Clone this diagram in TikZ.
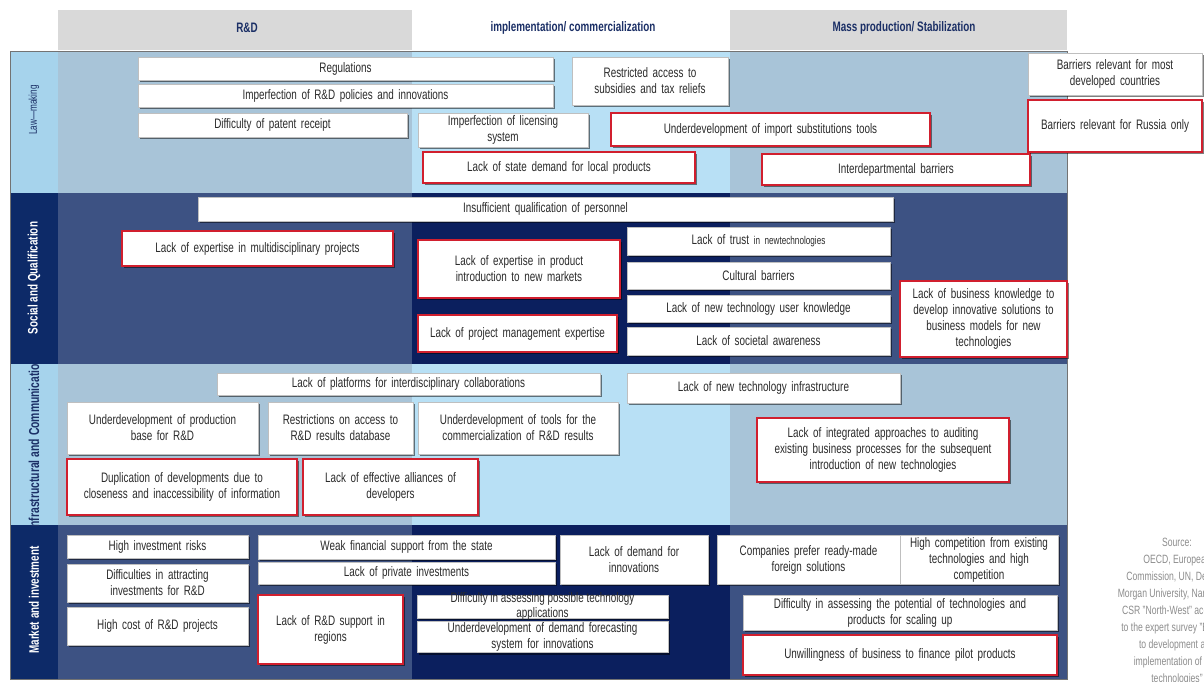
\documentclass[tikz,border=0pt]{standalone}
\usepackage{fontspec}
\setmainfont{Liberation Sans}[FakeStretch=0.72]
\usetikzlibrary{shadows}
\definecolor{hdr}{HTML}{D9D9D9}
\definecolor{lstrip}{HTML}{A6D3EC}
\definecolor{lside}{HTML}{A8C4D8}
\definecolor{lmid}{HTML}{B8E0F5}
\definecolor{dstrip}{HTML}{0D2A68}
\definecolor{dside}{HTML}{3D5283}
\definecolor{dmid}{HTML}{0B1F5E}
\definecolor{rbord}{HTML}{D11F2E}
\definecolor{ttxt}{HTML}{2B2B2B}
\definecolor{navy}{HTML}{1B2F66}
\tikzset{
  boxbase/.style={rectangle, inner sep=1pt, align=center, text=ttxt,
    font=\fontsize{10.3}{12}\selectfont,
    drop shadow={shadow xshift=1.2pt, shadow yshift=-1.8pt, fill=black, opacity=0.5}},
  wbox/.style={boxbase, fill=white, draw=black!25, line width=0.4pt},
  rbox/.style={boxbase, fill=white, draw=rbord, line width=1.5pt},
  hdrtext/.style={font=\bfseries\fontsize{10.3}{12}\selectfont, text=navy},
  lbl/.style={rotate=90, font=\bfseries\fontsize{10.3}{12}\selectfont},
}
\newcommand\mybox[7]{%
  \pgfmathsetmacro\bcx{(#3+#5)/2}%
  \pgfmathsetmacro\bcy{(#4+#6)/2}%
  \pgfmathsetmacro\bw{(#5-#3)*0.75}%
  \pgfmathsetmacro\bh{(#6-#4)*0.75}%
  \pgfmathsetmacro\btw{(#5-#3)*0.75-2}%
  \node[#2, minimum width=\bw pt, minimum height=\bh pt, text width=\btw pt] (#1) at (\bcx,\bcy) {#7};}
\begin{document}
\begin{tikzpicture}[x=0.75pt, y=-0.75pt]
\useasboundingbox (0,0) rectangle (1204,682);
% headers
\fill[hdr] (58,10) rectangle (412,50);
\fill[hdr] (730,10) rectangle (1067,50);
\node[hdrtext] (h1) at (247,28) {R\&D};
\node[hdrtext] (h2) at (573,28) {implementation/ commercialization};
\node[hdrtext] (h3) at (904,28) {Mass production/ Stabilization};
% rows
\fill[lstrip] (10,51) rectangle (58,193);
\fill[lside] (58,51) rectangle (412,193);
\fill[lmid] (412,51) rectangle (730,193);
\fill[lside] (730,51) rectangle (1067,193);
\fill[dstrip] (10,193) rectangle (58,364);
\fill[dside] (58,193) rectangle (412,364);
\fill[dmid] (412,193) rectangle (730,364);
\fill[dside] (730,193) rectangle (1067,364);
\fill[lstrip] (10,364) rectangle (58,525);
\fill[lside] (58,364) rectangle (412,525);
\fill[lmid] (412,364) rectangle (730,525);
\fill[lside] (730,364) rectangle (1067,525);
\fill[dstrip] (10,525) rectangle (58,679);
\fill[dside] (58,525) rectangle (412,679);
\fill[dmid] (412,525) rectangle (730,679);
\fill[dside] (730,525) rectangle (1067,679);
\draw[black!55, line width=0.6pt] (10,51) rectangle (1067,679);
% row labels
\node[lbl, text=navy, font=\fontsize{8.5}{10}\selectfont] (l1) at (34,110) {Law—making};
\node[lbl, text=white] (l2) at (34,278) {Social and Qualification};
\begin{scope}
\clip (10,364) rectangle (58,525);
\node[lbl, text=navy, font=\bfseries\fontsize{10.8}{12}\selectfont] (l3) at (34,444) {Infrastructural and Communication};
\end{scope}
\node[lbl, text=white] (l4) at (34,600) {Market and investment};
% law-making
\mybox{reg}{wbox}{138}{57}{553}{80}{Regulations}
\mybox{imp}{wbox}{138}{84}{553}{107}{Imperfection of R\&D policies and innovations}
\mybox{pat}{wbox}{138}{113}{407}{137}{Difficulty of patent receipt}
\mybox{sub}{wbox}{572}{57}{728}{105}{Restricted access to\\subsidies and tax reliefs}
\mybox{lic}{wbox}{418}{113}{588}{147}{Imperfection of licensing\\system}
\mybox{ist}{rbox}{611}{113}{930}{146}{Underdevelopment of import substitutions tools}
\mybox{sdm}{rbox}{423}{152}{695}{183}{Lack of state demand for local products}
\mybox{idb}{rbox}{762}{154}{1030}{185}{Interdepartmental barriers}
% legend
\mybox{lg1}{wbox}{1028}{53}{1202}{95}{Barriers relevant for most\\developed countries}
\mybox{lg2}{rbox}{1028}{100}{1202}{152}{Barriers relevant for Russia only}
% social
\mybox{iqp}{wbox}{198}{197}{893}{221}{Insufficient qualification of personnel}
\mybox{emp}{rbox}{122}{231}{393}{266}{Lack of expertise in multidisciplinary projects}
\mybox{epi}{rbox}{418}{240}{620}{298}{Lack of expertise in product\\introduction to new markets}
\mybox{pme}{rbox}{418}{315}{617}{352}{Lack of project management expertise}
\mybox{tru}{wbox}{627}{227}{890}{255}{Lack of trust {\fontsize{8.5}{10}\selectfont in newtechnologies}}
\mybox{cul}{wbox}{627}{262}{890}{289}{Cultural barriers}
\mybox{utk}{wbox}{627}{295}{890}{322}{Lack of new technology user knowledge}
\mybox{soc}{wbox}{627}{327}{890}{355}{Lack of societal awareness}
\mybox{bkn}{rbox}{900}{281}{1067}{357}{Lack of business knowledge to\\develop innovative solutions to\\business models for new\\technologies}
% infrastructural
\mybox{pla}{wbox}{217}{373}{600}{395}{Lack of platforms for interdisciplinary collaborations}
\mybox{nti}{wbox}{627}{373}{900}{403}{Lack of new technology infrastructure}
\mybox{pbr}{wbox}{67}{402}{258}{454}{Underdevelopment of production\\base for R\&D}
\mybox{rar}{wbox}{268}{402}{413}{454}{Restrictions on access to\\R\&D results database}
\mybox{tcr}{wbox}{418}{402}{618}{454}{Underdevelopment of tools for the\\commercialization of R\&D results}
\mybox{dup}{rbox}{67}{459}{297}{515}{Duplication of developments due to\\closeness and inaccessibility of information}
\mybox{all}{rbox}{303}{459}{478}{515}{Lack of effective alliances of\\developers}
\mybox{iaa}{rbox}{757}{418}{1009}{482}{Lack of integrated approaches to auditing\\existing business processes for the subsequent\\introduction of new technologies}
% market
\mybox{hir}{wbox}{67}{535}{248}{558}{High investment risks}
\mybox{dai}{wbox}{67}{564}{248}{602}{Difficulties in attracting\\investments for R\&D}
\mybox{hcr}{wbox}{67}{607}{248}{645}{High cost of R\&D projects}
\mybox{wfs}{wbox}{258}{535}{555}{559}{Weak financial support from the state}
\mybox{lpi}{wbox}{258}{562}{555}{584}{Lack of private investments}
\mybox{rsr}{rbox}{258}{595}{403}{664}{Lack of R\&D support in\\regions}
\mybox{ldi}{wbox}{560}{535}{708}{584}{Lack of demand for\\innovations}
\mybox{dap}{wbox}{417}{595}{668}{618}{}
\node[align=center, text=ttxt, font=\fontsize{10.3}{11.5}\selectfont, inner sep=0pt] (dapt) at (dap.center) {Difficulty in assessing possible technology\\applications};
\mybox{dfs}{wbox}{417}{622}{668}{652}{Underdevelopment of demand forecasting\\system for innovations}
\mybox{crf}{wbox}{717}{535}{900}{584}{Companies prefer ready-made\\foreign solutions}
\mybox{hce}{wbox}{900}{535}{1058}{584}{High competition from existing\\technologies and high\\competition}
\mybox{dpt}{wbox}{743}{595}{1057}{630}{Difficulty in assessing the potential of technologies and\\products for scaling up}
\mybox{uwb}{rbox}{743}{635}{1057}{675}{Unwillingness of business to finance pilot products}
% source
\node[anchor=north, align=center, text=black!45, font=\fontsize{9}{12.75}\selectfont] (src) at (1177,533) {Source:\\OECD, European\\Commission, UN, Deloitte,\\Morgan University, Nanocenter\\CSR "North-West" according\\to the expert survey "Barriers\\to development and\\implementation of new\\technologies"};
\end{tikzpicture}
\end{document}
